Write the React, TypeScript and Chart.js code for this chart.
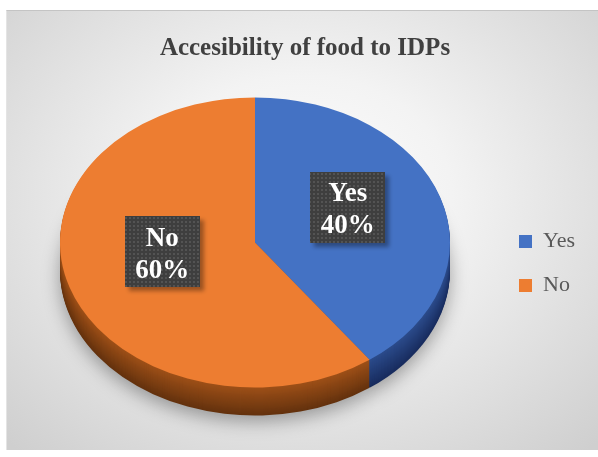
import React, { useEffect, useRef } from 'react';
import { Chart, registerables } from 'chart.js';

Chart.register(...registerables);

const TITLE = 'Accesibility of food to IDPs';
const CATEGORIES = ['Yes', 'No'];
const VALUES = [40, 60];
const COLORS = ['#4472C4', '#ED7D31'];
const SIDE_TOP = [[44, 76, 140], [158, 80, 24]];
const SIDE_BOTTOM = [[24, 44, 94], [100, 50, 14]];

// 3D tilt styling
const RX = 195;
const RY = 145;
const DEPTH = 28;
const OFF_X = -6;
const OFF_Y = -21;
const LABEL_FRAC = 0.5;
const LABEL_LIFT = -13;

const SERIF = '"Liberation Serif", "DejaVu Serif", serif';

function mix(a: number[], b: number[], t: number) {
  const c = a.map((v, i) => Math.round(v + (b[i] - v) * t));
  return `rgb(${c[0]},${c[1]},${c[2]})`;
}

function makePattern(ctx: CanvasRenderingContext2D) {
  const c = document.createElement('canvas');
  c.width = 4;
  c.height = 4;
  const p = c.getContext('2d')!;
  p.fillStyle = '#3e3e3e';
  p.fillRect(0, 0, 4, 4);
  p.fillStyle = '#535353';
  p.fillRect(1, 1, 2, 2);
  return ctx.createPattern(c, 'repeat');
}

const tiltPlugin = {
  id: 'tiltPie',
  beforeDatasetsDraw(chart: any) {
    const ctx: CanvasRenderingContext2D = chart.ctx;
    const arcs = chart.getDatasetMeta(0).data;
    if (!arcs.length) return;
    const cx = arcs[0].x;
    const cy = arcs[0].y;
    const r = arcs[0].outerRadius;
    const sx = RX / r;
    const sy = RY / r;
    for (let d = DEPTH; d >= 1; d--) {
      ctx.save();
      ctx.translate(cx + OFF_X, cy + OFF_Y + d);
      ctx.scale(sx, sy);
      if (d === DEPTH) {
        ctx.shadowColor = 'rgba(0,0,0,0.34)';
        ctx.shadowBlur = 18;
        ctx.shadowOffsetY = 6;
      }
      arcs.forEach((arc: any, i: number) => {
        ctx.beginPath();
        ctx.moveTo(0, 0);
        ctx.arc(0, 0, r, arc.startAngle, arc.endAngle);
        ctx.closePath();
        ctx.fillStyle = mix(SIDE_TOP[i], SIDE_BOTTOM[i], d / DEPTH);
        ctx.fill();
      });
      ctx.restore();
    }
    ctx.save();
    ctx.translate(cx + OFF_X, cy + OFF_Y);
    ctx.scale(sx, sy);
    ctx.translate(-cx, -cy);
  },
  afterDatasetsDraw(chart: any) {
    const ctx: CanvasRenderingContext2D = chart.ctx;
    const arcs = chart.getDatasetMeta(0).data;
    if (!arcs.length) return;
    ctx.restore();
    const cx = arcs[0].x;
    const cy = arcs[0].y;
    const r = arcs[0].outerRadius;
    const sx = RX / r;
    const sy = RY / r;
    const total = VALUES.reduce((s, v) => s + v, 0);
    const pattern = makePattern(ctx);
    arcs.forEach((arc: any, i: number) => {
      const mid = (arc.startAngle + arc.endAngle) / 2;
      const lx = cx + OFF_X + Math.cos(mid) * r * LABEL_FRAC * sx;
      const ly = cy + OFF_Y + Math.sin(mid) * r * LABEL_FRAC * sy + LABEL_LIFT;
      const w = 75;
      const h = 71;
      ctx.save();
      ctx.shadowColor = 'rgba(0,0,0,0.35)';
      ctx.shadowBlur = 4;
      ctx.shadowOffsetX = 4;
      ctx.shadowOffsetY = 4;
      ctx.fillStyle = pattern || '#404040';
      ctx.fillRect(Math.round(lx - w / 2), Math.round(ly - h / 2), w, h);
      ctx.restore();
      ctx.save();
      ctx.fillStyle = '#ffffff';
      ctx.font = `bold 27px ${SERIF}`;
      ctx.textAlign = 'center';
      ctx.textBaseline = 'alphabetic';
      ctx.fillText(CATEGORIES[i], lx, ly - 6);
      ctx.fillText(`${Math.round((VALUES[i] / total) * 100)}%`, lx, ly + 26);
      ctx.restore();
    });
  },
};

export default function App() {
  const ref = useRef<HTMLCanvasElement>(null);
  useEffect(() => {
    if (!ref.current) return;
    const chart = new Chart(ref.current, {
      type: 'pie',
      data: {
        labels: CATEGORIES,
        datasets: [
          {
            data: VALUES,
            backgroundColor: COLORS,
            borderWidth: 0,
            clip: false as any,
          },
        ],
      },
      options: {
        animation: false,
        responsive: false,
        events: [],
        layout: { padding: { top: 10, left: 25, right: 13, bottom: 0 } },
        plugins: {
          title: {
            display: true,
            text: TITLE,
            color: '#404040',
            font: { family: SERIF, size: 25, weight: 'bold' },
            padding: { top: 23.2, bottom: 6.8 },
          },
          legend: {
            position: 'right',
            fullSize: false,
            labels: {
              color: '#595959',
              font: { family: SERIF, size: 22 },
              boxWidth: 13,
              boxHeight: 13,
              padding: 22,
            },
          },
          tooltip: { enabled: false },
        },
      },
      plugins: [tiltPlugin],
    });
    return () => chart.destroy();
  }, []);

  return (
    <div style={{ position: 'absolute', left: 0, top: 0, width: 598, height: 457, background: '#ffffff', overflow: 'hidden' }}>
      <div
        style={{
          position: 'absolute',
          left: 6,
          top: 10,
          width: 592,
          height: 440,
          borderTop: '1px solid #c4c4c4',
          borderLeft: '1px solid #e4e4e4',
          boxSizing: 'border-box',
          background: 'radial-gradient(ellipse 72% 78% at 50% 42%, #fdfdfd 0%, #f3f3f3 35%, #dddddd 75%, #cfcfcf 100%)',
        }}
      />
      <canvas ref={ref} width={598} height={457} style={{ position: 'absolute', left: 0, top: 0, width: 598, height: 457 }} />
    </div>
  );
}
